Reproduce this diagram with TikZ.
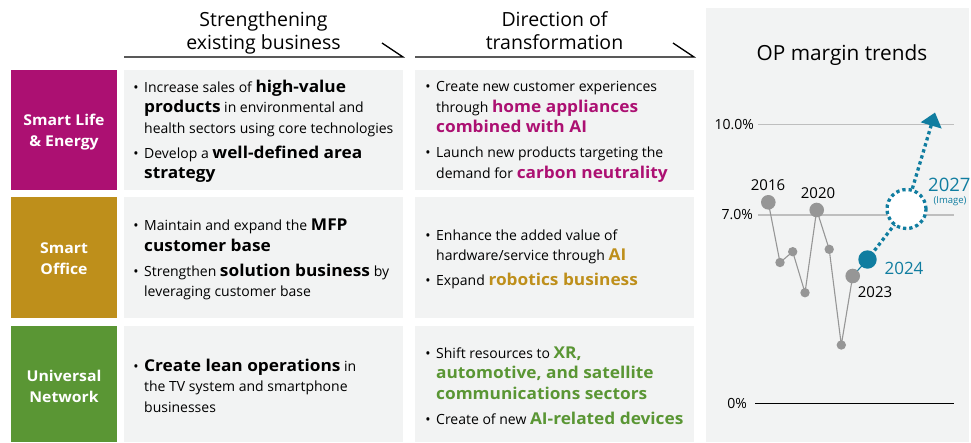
\documentclass[tikz,border=0pt]{standalone}
\usepackage{fontspec}
\setmainfont{Open Sans}[BoldFeatures={FakeStretch=1.06}]
\usetikzlibrary{arrows.meta}
\definecolor{slmag}{RGB}{172,16,114}
\definecolor{sogold}{RGB}{190,143,27}
\definecolor{ungreen}{RGB}{90,150,52}
\definecolor{opteal}{RGB}{16,125,160}
\definecolor{cellbg}{RGB}{242,243,243}
\definecolor{ptgray}{RGB}{150,150,150}
\definecolor{gridgray}{RGB}{190,190,190}
\newcommand{\bodyfont}{\fontsize{14}{20.5}\selectfont}
\newcommand{\catfont}{\fontsize{14.9}{21.5}\selectfont\bfseries}
\newcommand{\headfont}{\fontsize{19.5}{23.3}\selectfont}
\newcommand{\bul}{\llap{\textbullet\hspace{5.5pt}}}
\newcommand{\hb}[1]{{\fontsize{16.3}{20.5}\selectfont\bfseries #1}}
\newcommand{\hlm}[1]{\hb{\color{slmag}#1}}
\newcommand{\hlg}[1]{\hb{\color{sogold}#1}}
\newcommand{\hlgr}[1]{\hb{\color{ungreen}#1}}
\begin{document}
\begin{tikzpicture}[x=1pt,y=-1pt,
  catbox/.style={fill=#1, anchor=north west, minimum width=106pt, inner sep=0pt},
  catlbl/.style={text=white, font=\catfont, align=center, inner sep=0pt},
  cellbox/.style={fill=cellbg, anchor=north west, minimum width=279pt, inner sep=0pt},
  body/.style={anchor=base west, align=left, font=\bodyfont, inner sep=0pt},
  head/.style={anchor=base, align=center, font=\headfont, inner sep=0pt},
  yearlbl/.style={font=\fontsize{15}{18}\selectfont, inner sep=0pt},
  axislbl/.style={font=\fontsize{14}{17}\selectfont, inner sep=0pt, anchor=east},
  trendline/.style={draw=ptgray, line width=1.1pt},
  bigdot/.style={circle, fill=ptgray, minimum size=14.6pt, inner sep=0pt},
  smalldot/.style={circle, fill=ptgray, minimum size=9.4pt, inner sep=0pt},
  tealdots/.style={draw=opteal, line width=3.3pt, dash pattern=on 3.3pt off 3pt}
]
\useasboundingbox (0,0) rectangle (971,442);

% headers (base anchor = baseline of last line)
\node[head] (h1) at (263.5,49.3) {Strengthening\\existing business};
\node[head] (h2) at (554.5,49.3) {Direction of\\transformation};
\draw[line width=1.3pt] (124,57) -- (403,57) -- (382,43);
\draw[line width=1.3pt] (415,57) -- (694,57) -- (673,43);

% category boxes
\node[catbox=slmag, minimum height=120pt] (cat1) at (11,70) {};
\node[catbox=sogold, minimum height=121pt] (cat2) at (11,197) {};
\node[catbox=ungreen, minimum height=116pt] (cat3) at (11,326) {};
\node[catlbl] (cl1) at (64,132) {Smart Life\\\& Energy};
\node[catlbl] (cl2) at (64,258.5) {Smart\\Office};
\node[catlbl] (cl3) at (64,386.5) {Universal\\Network};

% cells
\node[cellbox, minimum height=120pt] (c11) at (124,70) {};
\node[cellbox, minimum height=120pt] (c12) at (415,70) {};
\node[cellbox, minimum height=121pt] (c21) at (124,197) {};
\node[cellbox, minimum height=121pt] (c22) at (415,197) {};
\node[cellbox, minimum height=116pt] (c31) at (124,326) {};
\node[cellbox, minimum height=116pt] (c32) at (415,326) {};

\node[body] (t11) at (144,178.5) {\bul Increase sales of \hb{high-value}\\ \hb{products} in environmental and\\ health sectors using core technologies\\[4.5pt] \bul Develop a \hb{well-defined area}\\ \hb{strategy}};
\node[body] (t12) at (436,178.2) {\bul Create new customer experiences\\ through \hlm{home appliances}\\ \hlm{combined with AI}\\[4.5pt] \bul Launch new products targeting the\\ demand for \hlm{carbon neutrality}};
\node[body] (t21) at (144,296.7) {\bul Maintain and expand the \hb{MFP}\\ \hb{customer base}\\[4.5pt] \bul Strengthen \hb{solution business} by\\ leveraging customer base};
\node[body] (t22) at (436,285.5) {\bul Enhance the added value of\\ hardware/service through \hlg{AI}\\[4.5pt] \bul Expand \hlg{robotics business}};
\node[body] (t31) at (144,412) {\bul \hb{Create lean operations} in\\ the TV system and smartphone\\ businesses};
\node[body] (t32) at (436,424.3) {\bul Shift resources to \hlgr{XR,}\\ \hlgr{automotive, and satellite}\\ \hlgr{communications sectors}\\[4.5pt] \bul Create of new \hlgr{AI-related devices}};

% right panel
\node[fill=cellbg, anchor=north west, minimum width=263pt, minimum height=434pt, inner sep=0pt] (panel) at (706,8) {};
\node[font=\fontsize{20.8}{24}\selectfont, anchor=base, inner sep=0pt] (title) at (842,60) {OP margin trends};

\coordinate (g10a) at (758,124.2); \coordinate (g10b) at (954,124.2);
\coordinate (g7a) at (758,215); \coordinate (g7b) at (954,215);
\coordinate (g0a) at (755,403.3); \coordinate (g0b) at (954,403.3);
\draw[gridgray, line width=1.3pt] (g10a) -- (g10b);
\draw[gridgray, line width=1.3pt] (g7a) -- (g7b);
\draw[black, line width=1.2pt] (g0a) -- (g0b);
\node[axislbl] (l10) at (754,124.3) {10.0\%};
\node[axislbl] (l7) at (753,215) {7.0\%};
\node[axislbl] (l0) at (747,403.3) {0\%};

\coordinate (p16) at (768.3,202.3);
\coordinate (p17) at (780,262.5);
\coordinate (p18) at (792.7,251.7);
\coordinate (p19) at (805,292.7);
\coordinate (p20) at (816.7,210);
\coordinate (p21) at (829.2,249.3);
\coordinate (p22) at (841.3,345);
\coordinate (p23) at (852.7,276);
\coordinate (p24) at (867.5,259.5);
\coordinate (p27) at (906.5,209);
\coordinate (tip) at (935,112.5);

\draw[trendline] (p16) -- (p17) -- (p18) -- (p19) -- (p20) -- (p21) -- (p22) -- (p23);
\draw[opteal, line width=1.1pt] (p23) -- (p24);
\node[bigdot] (d16) at (p16) {};
\node[smalldot] (d17) at (p17) {};
\node[smalldot] (d18) at (p18) {};
\node[smalldot] (d19) at (p19) {};
\node[bigdot] (d20) at (p20) {};
\node[smalldot] (d21) at (p21) {};
\node[smalldot] (d22) at (p22) {};
\node[bigdot] (d23) at (p23) {};
\node[circle, fill=opteal, minimum size=18.4pt, inner sep=0pt] (d24) at (p24) {};
\draw[tealdots, shorten <=2pt] (d24) -- (p27);
\node[circle, fill=white, tealdots, minimum size=39pt, inner sep=0pt] (d27) at (p27) {};
\draw[tealdots, -{Triangle[length=13.5pt, width=21pt]}] (d27.74) -- (tip);

\node[yearlbl] (y16) at (768,185.5) {2016};
\node[yearlbl] (y20) at (818,193.5) {2020};
\node[yearlbl] (y23) at (875,291.7) {2023};
\node[font=\fontsize{17}{20}\selectfont, text=opteal, inner sep=0pt] (y24) at (904,268) {2024};
\node[font=\fontsize{18.5}{22}\selectfont, text=opteal, inner sep=0pt, anchor=west] (y27) at (928,185.3) {2027};
\node[font=\fontsize{9.5}{11}\selectfont, text=opteal, inner sep=0pt] (img) at (950,201.7) {(Image)};
\end{tikzpicture}
\end{document}
